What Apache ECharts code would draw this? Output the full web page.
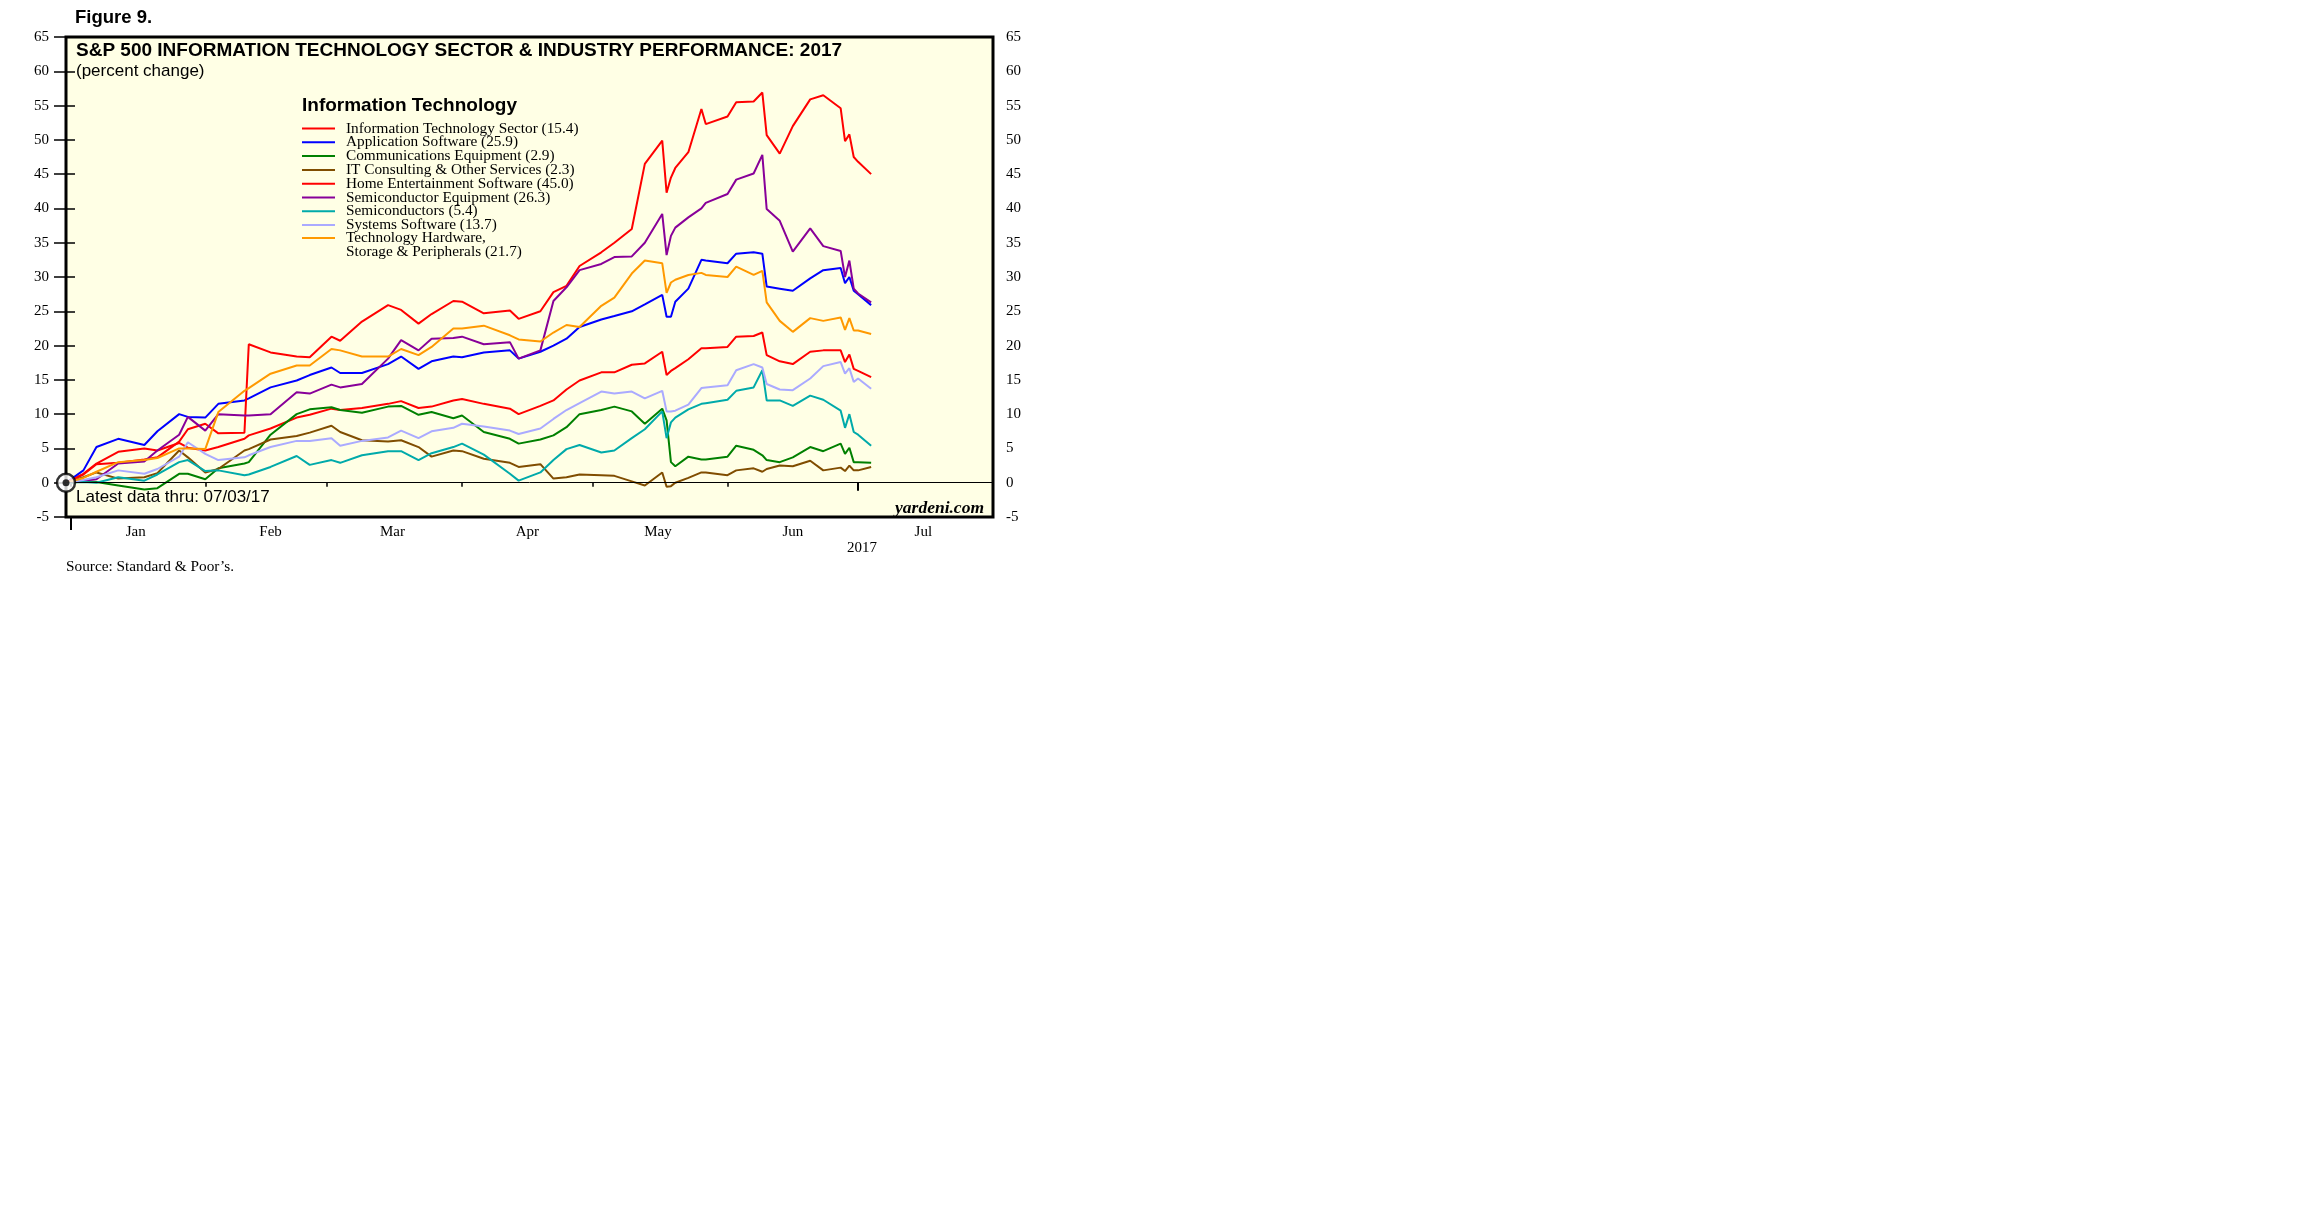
<!DOCTYPE html>
<html><head><meta charset="utf-8">
<style>html,body{margin:0;padding:0;background:#fff}#c{width:2304px;height:1228px}</style>
<script src="https://cdn.jsdelivr.net/npm/echarts@6/dist/echarts.min.js"></script>
</head><body><div id="c"></div>
<script>
const dates = ['2016-12-30','2017-01-03','2017-01-06','2017-01-11','2017-01-17','2017-01-20','2017-01-25','2017-01-27','2017-01-31',
'2017-02-03','2017-02-09','2017-02-10','2017-02-15','2017-02-21','2017-02-24','2017-03-01','2017-03-03','2017-03-08','2017-03-14',
'2017-03-17','2017-03-21','2017-03-24','2017-03-29','2017-03-31','2017-04-05','2017-04-11','2017-04-13','2017-04-18','2017-04-21',
'2017-04-24','2017-04-27','2017-05-02','2017-05-05','2017-05-09','2017-05-12','2017-05-16','2017-05-17','2017-05-18','2017-05-19',
'2017-05-22','2017-05-25','2017-05-26','2017-05-31','2017-06-02','2017-06-06','2017-06-08','2017-06-09','2017-06-12','2017-06-15',
'2017-06-19','2017-06-22','2017-06-26','2017-06-27','2017-06-28','2017-06-29','2017-06-30','2017-07-03'];

const itSector = [0,1.3,2.8,4.5,5.0,4.7,5.8,5.1,4.7,5.2,6.4,6.9,7.9,9.5,9.9,10.8,10.6,10.9,11.5,11.9,10.9,11.1,12.0,12.2,11.5,10.8,10.0,11.2,12.0,13.6,14.9,16.1,16.1,17.2,17.4,19.1,15.7,16.3,16.7,18.0,19.6,19.6,19.8,21.3,21.4,21.9,18.6,17.7,17.3,19.1,19.3,19.3,17.6,18.7,16.6,16.3,15.4];
const appSoftware = [0,1.8,5.2,6.4,5.5,7.5,10.0,9.6,9.5,11.5,12.0,12.3,13.9,14.9,15.7,16.8,16.0,16.0,17.3,18.4,16.6,17.7,18.4,18.3,19.0,19.3,18.1,19.1,20.0,21.0,22.7,23.8,24.3,25.0,26.0,27.4,24.2,24.2,26.4,28.3,32.5,32.4,32.0,33.4,33.6,33.4,28.6,28.3,28.0,29.8,31.0,31.3,29.1,30.0,28.0,27.5,25.9];
const commEquip = [0,0.2,0.1,-0.4,-1.0,-0.8,1.3,1.3,0.5,2.1,2.8,3.0,7.0,10.0,10.7,11.0,10.6,10.2,11.1,11.2,9.9,10.3,9.4,9.8,7.4,6.4,5.7,6.3,6.9,8.1,10.0,10.6,11.1,10.4,8.6,10.8,9.1,3.0,2.4,3.8,3.4,3.4,3.8,5.4,4.8,4.0,3.3,3.0,3.7,5.2,4.6,5.7,4.2,5.1,3.0,3.0,2.9];
const itConsulting = [0,0.8,1.5,0.6,0.8,1.4,4.7,3.7,1.5,2.0,4.7,4.9,6.3,6.8,7.3,8.3,7.4,6.2,6.0,6.2,5.2,3.8,4.7,4.6,3.5,2.9,2.3,2.7,0.6,0.8,1.2,1.1,1.0,0.2,-0.4,1.5,-0.6,-0.5,0.0,0.7,1.5,1.5,1.1,1.8,2.1,1.6,2.0,2.5,2.4,3.2,1.8,2.2,1.7,2.5,1.8,1.8,2.3];
const homeEnt = [0,1.2,2.7,2.9,3.4,3.7,6.0,7.8,8.6,7.2,7.3,20.2,19.0,18.4,18.3,21.3,20.7,23.5,25.9,25.2,23.2,24.6,26.5,26.4,24.7,25.1,23.9,25.0,27.8,28.7,31.6,33.6,35.0,37.0,46.5,49.9,42.3,44.5,45.9,48.2,54.5,52.3,53.4,55.5,55.6,56.9,50.7,48.0,52.0,55.9,56.5,54.6,49.8,50.8,47.5,46.8,45.0];
const semiEquip = [0,0.3,0.5,2.8,3.1,4.7,7.0,9.6,7.6,10.0,9.8,9.8,10.0,13.2,13.0,14.3,13.9,14.4,18.1,20.8,19.3,21.0,21.1,21.3,20.2,20.5,18.1,19.3,26.5,28.5,31.0,31.9,32.9,33.0,35.0,39.2,33.2,36.0,37.2,38.7,40.0,40.8,42.1,44.2,45.1,47.8,39.9,38.2,33.7,37.1,34.5,33.8,30.0,32.4,28.3,27.6,26.3];
const semis = [0,0.1,0.0,0.8,0.3,1.2,3.0,3.3,1.7,1.8,1.1,1.2,2.3,3.9,2.6,3.3,2.9,4.0,4.6,4.6,3.3,4.3,5.2,5.7,4.1,1.3,0.3,1.5,3.3,4.9,5.5,4.4,4.7,6.5,7.8,10.4,6.5,8.8,9.5,10.7,11.5,11.6,12.1,13.4,13.9,16.4,12.0,12.0,11.2,12.7,12.1,10.5,8.0,10.0,7.4,7.0,5.4];
const sysSoftware = [0,0.4,0.8,1.8,1.3,2.0,3.8,5.9,4.2,3.3,3.7,4.0,5.2,6.1,6.1,6.5,5.4,6.1,6.6,7.6,6.5,7.5,8.0,8.6,8.2,7.6,7.1,7.9,9.3,10.6,11.6,13.3,13.0,13.3,12.3,13.4,10.4,10.4,10.5,11.4,13.8,13.9,14.2,16.4,17.3,16.8,14.4,13.6,13.5,15.2,17.0,17.6,15.9,16.7,14.7,15.2,13.7];
const techHardware = [0,0.7,1.6,3.0,3.3,3.6,5.0,5.0,4.9,10.3,13.4,13.8,15.9,17.1,17.1,19.5,19.3,18.4,18.4,19.5,18.6,19.8,22.5,22.5,22.9,21.5,20.9,20.6,21.9,23.0,22.7,25.8,27.0,30.5,32.4,32.0,27.7,29.2,29.6,30.3,30.6,30.3,30.0,31.5,30.3,30.9,26.3,23.6,22.0,24.0,23.6,24.1,22.3,24.0,22.2,22.2,21.7];

const seriesNames = ['Information Technology Sector (15.4)','Application Software (25.9)','Communications Equipment (2.9)',
 'IT Consulting & Other Services (2.3)','Home Entertainment Software (45.0)','Semiconductor Equipment (26.3)',
 'Semiconductors (5.4)','Systems Software (13.7)','Technology Hardware,\nStorage & Peripherals (21.7)'];
const seriesValues = [itSector, appSoftware, commEquip, itConsulting, homeEnt, semiEquip, semis, sysSoftware, techHardware];
const seriesColors = ['#FF0000','#0000FF','#008000','#804D00','#FF0000','#880099','#00AAAA','#AAAAFF','#FF9900'];
const monthNames = ['Jan','Feb','Mar','Apr','May','Jun','Jul'];
const monthEndDates = ['2016-12-31','2017-01-31','2017-02-28','2017-03-31','2017-04-30','2017-05-31','2017-06-30'];
const midMonthDates = ['2017-01-15','2017-02-15','2017-03-15','2017-04-15','2017-05-15','2017-06-15','2017-07-15'];
const axisStartDate = '2016-12-30', axisEndDate = '2017-07-31';

// day number counted from the axis start
const dayOf = (s) => Math.round((Date.parse(s) - Date.parse(axisStartDate)) / 86400000);
const monthEnds = monthEndDates.map(dayOf);
const midMonths = midMonthDates.map(dayOf);
const xMin = 0, xMax = dayOf(axisEndDate);
const lastTick = dayOf('2017-06-30');

const serif = 'Liberation Serif';
const sans = 'Liberation Sans';
const ROW = 13.7;
const LEG_TOP = 121;

const chart = echarts.init(document.getElementById('c'), null, {renderer: 'canvas'});

const series = seriesValues.map((vals, i) => ({
  name: seriesNames[i],
  type: 'line',
  xAxisIndex: 0, yAxisIndex: 0,
  symbol: 'none',
  showSymbol: false,
  color: seriesColors[i],
  lineStyle: {width: 2, color: seriesColors[i]},
  data: dates.map((d, k) => [dayOf(d), vals[k]]),
  z: 3,
  animation: false
}));
series[0].markLine = {
  silent: true, symbol: ['none','none'], animation: false,
  label: {show: false},
  lineStyle: {color: '#000', width: 1, type: 'solid'},
  data: [{yAxis: 0}]
};
series.push({
  type: 'scatter', xAxisIndex: 0, yAxisIndex: 0, clip: false, silent: true,
  symbolSize: 18, z: 10, animation: false,
  itemStyle: {color: '#fff', borderColor: '#000', borderWidth: 2.5},
  data: [[0, 0]]
});
series.push({
  type: 'scatter', xAxisIndex: 0, yAxisIndex: 0, clip: false, silent: true,
  symbolSize: 7, z: 11, animation: false,
  itemStyle: {color: '#000'},
  data: [[0, 0]]
});

const axisBase = {
  type: 'value', min: xMin, max: xMax, position: 'bottom',
  axisLine: {show: false}, splitLine: {show: false}
};

const lastName = seriesNames[seriesNames.length - 1];
const legendBase = {
  orient: 'vertical', left: 301,
  itemWidth: 33, itemHeight: 12.5,
  selectedMode: false, padding: 0,
  itemStyle: {opacity: 0},
  lineStyle: {width: 2}
};

const option = {
  animation: false,
  backgroundColor: '#fff',
  title: [
    {text: 'Figure 9.', left: 75, top: 8, padding: 0,
     textStyle: {fontFamily: sans, fontWeight: 'bold', fontSize: 18.5, color: '#000'}},
    {text: 'S&P 500 INFORMATION TECHNOLOGY SECTOR & INDUSTRY PERFORMANCE: 2017', left: 76, top: 41, padding: 0,
     textStyle: {fontFamily: sans, fontWeight: 'bold', fontSize: 19, color: '#000'}},
    {text: '(percent change)', left: 76, top: 63, padding: 0,
     textStyle: {fontFamily: sans, fontWeight: 'normal', fontSize: 17, color: '#000'}},
    {text: 'Information Technology', left: 302, top: 96, padding: 0,
     textStyle: {fontFamily: sans, fontWeight: 'bold', fontSize: 19, color: '#000'}},
    {text: 'Latest data thru: 07/03/17', left: 76, top: 489, padding: 0,
     textStyle: {fontFamily: sans, fontWeight: 'normal', fontSize: 17, color: '#000'}},
    {text: 'yardeni.com', right: 2304 - 984, top: 499, padding: 0,
     textStyle: {fontFamily: serif, fontWeight: 'bold', fontStyle: 'italic', fontSize: 17.5, color: '#000'}},
    {text: 'Source: Standard & Poor\u2019s.', left: 66, top: 559, padding: 0,
     textStyle: {fontFamily: serif, fontWeight: 'normal', fontSize: 15.3, color: '#000'}}
  ],
  legend: [
    Object.assign({}, legendBase, {
      top: LEG_TOP, itemGap: -1.2,
      textStyle: {fontFamily: serif, fontSize: 15.3, color: '#000', lineHeight: 12.5, padding: [0,0,0,6]},
      data: seriesNames.slice(0, 8)
    }),
    Object.assign({}, legendBase, {
      top: LEG_TOP + 6.8 + 8 * ROW - 1.5 * ROW, itemGap: 0,
      formatter: (name) => '\n' + name,
      textStyle: {fontFamily: serif, fontSize: 15.3, color: '#000', lineHeight: ROW, padding: [0,0,0,6]},
      data: [lastName]
    })
  ],
  grid: {
    left: 66, top: 37, width: 927, height: 480, containLabel: false,
    show: true, backgroundColor: '#FFFFE5', borderColor: '#000', borderWidth: 3
  },
  xAxis: [
    Object.assign({}, axisBase, {
      axisTick: {show: true, customValues: monthEnds, length: 4, lineStyle: {color: '#000', width: 1.5}},
      axisLabel: {show: true, customValues: midMonths, margin: 8, fontFamily: serif, fontSize: 15, color: '#000',
        formatter: (v) => monthNames[midMonths.indexOf(v)] || ''}
    }),
    Object.assign({}, axisBase, {
      axisTick: {show: true, customValues: [xMin, lastTick], length: 8, lineStyle: {color: '#000', width: 2}},
      axisLabel: {show: true, customValues: [lastTick], margin: 24, fontFamily: serif, fontSize: 15, color: '#000',
        padding: [0, 0, 0, 8], formatter: () => '2017'}
    }),
    Object.assign({}, axisBase, {
      axisTick: {show: true, customValues: [monthEnds[0]], length: 13, lineStyle: {color: '#000', width: 2}},
      axisLabel: {show: false}
    })
  ],
  yAxis: [
    {type: 'value', position: 'left', min: -5, max: 65, interval: 5,
     axisLine: {show: false}, splitLine: {show: false},
     axisTick: {show: true, length: 12, lineStyle: {color: '#000', width: 1.5}},
     axisLabel: {margin: 17, fontFamily: serif, fontSize: 15, color: '#000'}},
    {type: 'value', position: 'right', min: -5, max: 65, interval: 5,
     axisLine: {show: false}, splitLine: {show: false},
     axisTick: {show: true, length: 9, lineStyle: {color: '#000', width: 1.5}},
     axisLabel: {margin: 13, fontFamily: serif, fontSize: 15, color: '#000'}}
  ],
  series: series
};
chart.setOption(option);
</script></body></html>
